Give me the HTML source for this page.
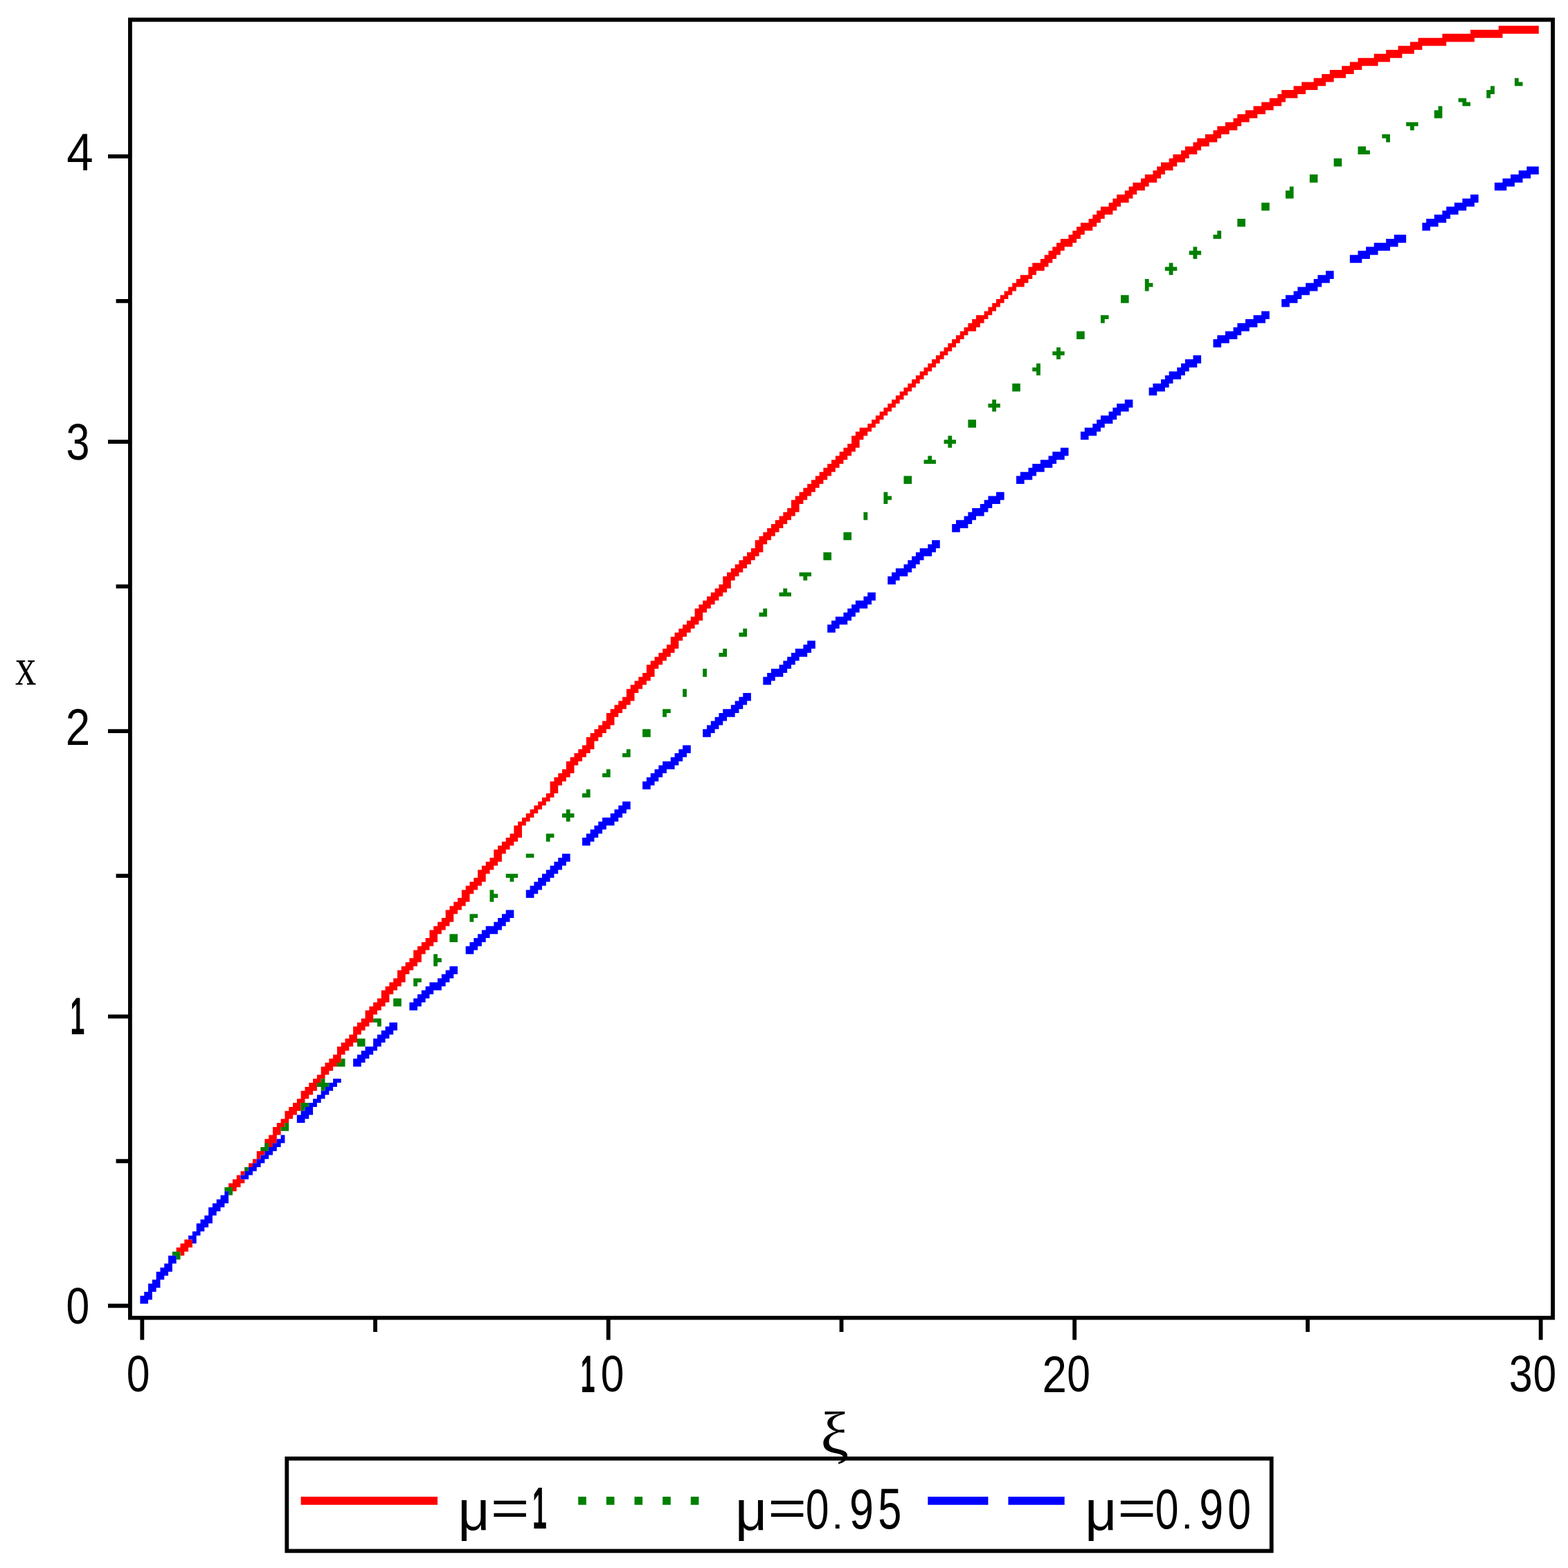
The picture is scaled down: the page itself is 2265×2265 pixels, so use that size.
<!DOCTYPE html>
<html lang="en"><head><meta charset="utf-8"><title>x versus ξ</title>
<style>
html,body{margin:0;padding:0;background:#fff;}
body{width:2265px;height:2265px;overflow:hidden;}
svg{display:block;}
text{fill:#000;font-family:'Liberation Sans',sans-serif;}
</style></head><body>
<svg width="2265" height="2265" viewBox="0 0 2265 2265">
<rect width="2265" height="2265" fill="#fff"/>
<path fill="#000" d="M2245.98,25.61 185.03,25.61 185.03,223 156,223 156,228.80 185.03,228.80 185.03,432 167.61,432 167.61,437.80 185.03,437.80 185.03,635.19 156,635.19 156,641 185.03,641 185.03,844.19 167.61,844.19 167.61,849.99 185.03,849.99 185.03,1053.19 156,1053.19 156,1058.99 185.03,1058.99 185.03,1262.18 167.61,1262.18 167.61,1267.99 185.03,1267.99 185.03,1465.38 156,1465.38 156,1471.18 185.03,1471.18 185.03,1674.37 167.61,1674.37 167.61,1680.18 185.03,1680.18 185.03,1883.37 156,1883.37 156,1889.18 185.03,1889.18 185.03,1906.59 202.44,1906.59 202.44,1935.62 208.25,1935.62 208.25,1906.59 539.16,1906.59 539.16,1924.01 544.97,1924.01 544.97,1906.59 875.88,1906.59 875.88,1935.62 881.69,1935.62 881.69,1906.59 1212.60,1906.59 1212.60,1924.01 1218.40,1924.01 1218.40,1906.59 1549.32,1906.59 1549.32,1935.62 1555.12,1935.62 1555.12,1906.59 1886.04,1906.59 1886.04,1924.01 1891.84,1924.01 1891.84,1906.59 2222.76,1906.59 2222.76,1935.62 2228.56,1935.62 2228.56,1906.59 2245.98,1906.59ZM190.83,31.42 2240.17,31.42 2240.17,1900.79 190.83,1900.79ZM411.44,2243.31 1839.59,2243.31 1839.59,2103.98 411.44,2103.98ZM1833.79,2109.79 1833.79,2237.51 417.25,2237.51 417.25,2109.79Z"/>
<path fill="#f00" d="M510.13,1482.79 510.13,1494.40 504.33,1494.40 504.33,1500.21 498.52,1500.21 498.52,1506.01 492.72,1506.01 492.72,1511.82 486.91,1511.82 486.91,1523.43 481.11,1523.43 481.11,1529.24 475.30,1529.24 475.30,1535.04 469.50,1535.04 469.50,1540.85 463.69,1540.85 463.69,1552.46 457.88,1552.46 457.88,1558.26 452.08,1558.26 452.08,1564.07 446.27,1564.07 446.27,1569.88 440.47,1569.88 440.47,1575.68 434.66,1575.68 434.66,1587.29 428.86,1587.29 428.86,1593.10 423.05,1593.10 423.05,1598.90 417.25,1598.90 417.25,1604.71 411.44,1604.71 411.44,1616.32 405.64,1616.32 405.64,1622.12 399.83,1622.12 399.83,1627.93 394.02,1627.93 394.02,1639.54 388.22,1639.54 388.22,1645.35 382.41,1645.35 382.41,1656.96 376.61,1656.96 376.61,1662.76 370.80,1662.76 370.80,1674.37 376.61,1674.37 376.61,1668.57 382.41,1668.57 382.41,1662.76 388.22,1662.76 388.22,1656.96 394.02,1656.96 394.02,1651.15 399.83,1651.15 399.83,1639.54 405.64,1639.54 405.64,1627.93 411.44,1627.93 411.44,1622.12 417.25,1622.12 417.25,1616.32 423.05,1616.32 423.05,1610.51 428.86,1610.51 428.86,1604.71 434.66,1604.71 434.66,1593.10 440.47,1593.10 440.47,1587.29 446.27,1587.29 446.27,1581.49 452.08,1581.49 452.08,1575.68 457.88,1575.68 457.88,1564.07 463.69,1564.07 463.69,1558.26 469.50,1558.26 469.50,1552.46 475.30,1552.46 475.30,1546.65 481.11,1546.65 481.11,1540.85 486.91,1540.85 486.91,1535.04 492.72,1535.04 492.72,1523.43 498.52,1523.43 498.52,1517.63 504.33,1517.63 504.33,1511.82 510.13,1511.82 510.13,1506.01 515.94,1506.01 515.94,1494.40 521.75,1494.40 521.75,1488.60 527.55,1488.60 527.55,1482.79 533.36,1482.79 533.36,1476.99 539.16,1476.99 539.16,1465.38 544.97,1465.38 544.97,1459.57 550.77,1459.57 550.77,1453.77 556.58,1453.77 556.58,1447.96 562.38,1447.96 562.38,1436.35 568.19,1436.35 568.19,1430.54 573.99,1430.54 573.99,1424.74 579.80,1424.74 579.80,1418.93 585.61,1418.93 585.61,1407.32 591.41,1407.32 591.41,1401.52 597.22,1401.52 597.22,1395.71 603.02,1395.71 603.02,1389.90 608.83,1389.90 608.83,1378.29 614.63,1378.29 614.63,1372.49 620.44,1372.49 620.44,1366.68 626.24,1366.68 626.24,1360.88 632.05,1360.88 632.05,1349.27 637.86,1349.27 637.86,1343.46 643.66,1343.46 643.66,1337.66 649.47,1337.66 649.47,1331.85 655.27,1331.85 655.27,1320.24 661.08,1320.24 661.08,1314.43 666.88,1314.43 666.88,1308.63 672.69,1308.63 672.69,1302.82 678.49,1302.82 678.49,1291.21 684.30,1291.21 684.30,1285.41 690.10,1285.41 690.10,1279.60 695.91,1279.60 695.91,1273.79 701.72,1273.79 701.72,1262.18 707.52,1262.18 707.52,1256.38 713.33,1256.38 713.33,1250.57 719.13,1250.57 719.13,1244.77 724.94,1244.77 724.94,1233.16 730.74,1233.16 730.74,1227.35 736.55,1227.35 736.55,1221.55 742.35,1221.55 742.35,1215.74 748.16,1215.74 748.16,1209.93 753.97,1209.93 753.97,1192.52 759.77,1192.52 759.77,1186.71 765.58,1186.71 765.58,1180.91 771.38,1180.91 771.38,1175.10 777.19,1175.10 777.19,1169.30 782.99,1169.30 782.99,1163.49 788.80,1163.49 788.80,1157.68 794.60,1157.68 794.60,1151.88 800.41,1151.88 800.41,1146.07 806.21,1146.07 806.21,1134.46 812.02,1134.46 812.02,1128.66 817.83,1128.66 817.83,1122.85 823.63,1122.85 823.63,1117.05 829.44,1117.05 829.44,1105.44 835.24,1105.44 835.24,1099.63 841.05,1099.63 841.05,1093.82 846.85,1093.82 846.85,1088.02 852.66,1088.02 852.66,1082.21 858.46,1082.21 858.46,1070.60 864.27,1070.60 864.27,1064.80 870.08,1064.80 870.08,1058.99 875.88,1058.99 875.88,1053.19 881.69,1053.19 881.69,1047.38 887.49,1047.38 887.49,1035.77 893.30,1035.77 893.30,1029.96 899.10,1029.96 899.10,1024.16 904.91,1024.16 904.91,1018.35 910.71,1018.35 910.71,1012.55 916.52,1012.55 916.52,1000.94 922.32,1000.94 922.32,995.13 928.13,995.13 928.13,989.33 933.94,989.33 933.94,983.52 939.74,983.52 939.74,977.71 945.55,977.71 945.55,966.10 951.35,966.10 951.35,960.30 957.16,960.30 957.16,954.49 962.96,954.49 962.96,948.69 968.77,948.69 968.77,942.88 974.57,942.88 974.57,937.08 980.38,937.08 980.38,925.46 986.19,925.46 986.19,919.66 991.99,919.66 991.99,913.85 997.80,913.85 997.80,908.05 1003.60,908.05 1003.60,902.24 1009.41,902.24 1009.41,896.44 1015.21,896.44 1015.21,884.83 1021.02,884.83 1021.02,879.02 1026.82,879.02 1026.82,873.22 1032.63,873.22 1032.63,867.41 1038.43,867.41 1038.43,861.60 1044.24,861.60 1044.24,855.80 1050.05,855.80 1050.05,849.99 1055.85,849.99 1055.85,838.38 1061.66,838.38 1061.66,832.58 1067.46,832.58 1067.46,826.77 1073.27,826.77 1073.27,820.97 1079.07,820.97 1079.07,815.16 1084.88,815.16 1084.88,809.35 1090.68,809.35 1090.68,803.55 1096.49,803.55 1096.49,797.74 1102.30,797.74 1102.30,786.13 1108.10,786.13 1108.10,780.33 1113.91,780.33 1113.91,774.52 1119.71,774.52 1119.71,768.72 1125.52,768.72 1125.52,762.91 1131.32,762.91 1131.32,757.11 1137.13,757.11 1137.13,751.30 1142.93,751.30 1142.93,745.49 1148.74,745.49 1148.74,739.69 1154.54,739.69 1154.54,728.08 1160.35,728.08 1160.35,722.27 1166.16,722.27 1166.16,716.47 1171.96,716.47 1171.96,710.66 1177.77,710.66 1177.77,704.86 1183.57,704.86 1183.57,699.05 1189.38,699.05 1189.38,693.24 1195.18,693.24 1195.18,687.44 1200.99,687.44 1200.99,681.63 1206.79,681.63 1206.79,675.83 1212.60,675.83 1212.60,670.02 1218.40,670.02 1218.40,664.22 1224.21,664.22 1224.21,658.41 1230.02,658.41 1230.02,652.61 1235.82,652.61 1235.82,646.80 1241.63,646.80 1241.63,635.19 1247.43,635.19 1247.43,629.38 1253.24,629.38 1253.24,623.58 1259.04,623.58 1259.04,617.77 1264.85,617.77 1264.85,611.97 1270.65,611.97 1270.65,606.16 1276.46,606.16 1276.46,600.36 1282.27,600.36 1282.27,594.55 1288.07,594.55 1288.07,588.75 1293.88,588.75 1293.88,582.94 1299.68,582.94 1299.68,577.13 1305.49,577.13 1305.49,571.33 1311.29,571.33 1311.29,565.52 1317.10,565.52 1317.10,559.72 1322.90,559.72 1322.90,553.91 1328.71,553.91 1328.71,548.11 1334.52,548.11 1334.52,542.30 1340.32,542.30 1340.32,536.50 1346.13,536.50 1346.13,530.69 1351.93,530.69 1351.93,524.88 1357.74,524.88 1357.74,519.08 1363.54,519.08 1363.54,513.27 1369.35,513.27 1369.35,507.47 1375.15,507.47 1375.15,501.66 1380.96,501.66 1380.96,495.86 1386.76,495.86 1386.76,490.05 1392.57,490.05 1392.57,484.25 1398.38,484.25 1398.38,478.44 1409.99,478.44 1409.99,472.64 1415.79,472.64 1415.79,466.83 1421.60,466.83 1421.60,461.02 1427.40,461.02 1427.40,455.22 1433.21,455.22 1433.21,449.41 1439.01,449.41 1439.01,443.61 1444.82,443.61 1444.82,437.80 1450.62,437.80 1450.62,432 1456.43,432 1456.43,426.19 1462.24,426.19 1462.24,420.39 1468.04,420.39 1468.04,414.58 1479.65,414.58 1479.65,408.78 1485.46,408.78 1485.46,402.97 1491.26,402.97 1491.26,397.16 1497.07,397.16 1497.07,391.36 1508.68,391.36 1508.68,385.55 1514.49,385.55 1514.49,379.75 1520.29,379.75 1520.29,373.94 1526.10,373.94 1526.10,368.14 1531.90,368.14 1531.90,362.33 1537.71,362.33 1537.71,356.53 1549.32,356.53 1549.32,350.72 1555.12,350.72 1555.12,344.91 1560.93,344.91 1560.93,339.11 1566.74,339.11 1566.74,333.30 1578.35,333.30 1578.35,327.50 1584.15,327.50 1584.15,321.69 1589.96,321.69 1589.96,315.89 1595.76,315.89 1595.76,310.08 1607.37,310.08 1607.37,304.28 1613.18,304.28 1613.18,298.47 1618.98,298.47 1618.98,292.67 1630.60,292.67 1630.60,286.86 1636.40,286.86 1636.40,281.05 1642.21,281.05 1642.21,275.25 1653.82,275.25 1653.82,269.44 1659.62,269.44 1659.62,263.64 1671.23,263.64 1671.23,257.83 1677.04,257.83 1677.04,252.03 1682.85,252.03 1682.85,246.22 1694.46,246.22 1694.46,240.42 1700.26,240.42 1700.26,234.61 1711.87,234.61 1711.87,228.80 1717.68,228.80 1717.68,223 1729.29,223 1729.29,217.19 1735.09,217.19 1735.09,211.39 1746.71,211.39 1746.71,205.58 1758.32,205.58 1758.32,199.78 1764.12,199.78 1764.12,193.97 1775.73,193.97 1775.73,188.17 1787.34,188.17 1787.34,182.36 1793.15,182.36 1793.15,176.56 1804.76,176.56 1804.76,170.75 1816.37,170.75 1816.37,164.94 1827.98,164.94 1827.98,159.14 1839.59,159.14 1839.59,153.33 1851.20,153.33 1851.20,147.53 1857.01,147.53 1857.01,141.72 1874.43,141.72 1874.43,135.92 1886.04,135.92 1886.04,130.11 1903.45,130.11 1903.45,124.31 1915.07,124.31 1915.07,118.50 1926.68,118.50 1926.68,112.69 1944.09,112.69 1944.09,106.89 1955.70,106.89 1955.70,101.08 1967.31,101.08 1967.31,95.28 1990.54,95.28 1990.54,89.47 2007.95,89.47 2007.95,83.67 2025.37,83.67 2025.37,77.86 2042.79,77.86 2042.79,72.06 2054.40,72.06 2054.40,66.25 2089.23,66.25 2089.23,60.45 2129.87,60.45 2129.87,54.64 2170.51,54.64 2170.51,48.83 2222.76,48.83 2222.76,37.22 2164.70,37.22 2164.70,43.03 2124.06,43.03 2124.06,48.83 2083.42,48.83 2083.42,54.64 2048.59,54.64 2048.59,60.45 2036.98,60.45 2036.98,66.25 2019.56,66.25 2019.56,72.06 2002.15,72.06 2002.15,77.86 1984.73,77.86 1984.73,83.67 1961.51,83.67 1961.51,89.47 1949.90,89.47 1949.90,95.28 1938.29,95.28 1938.29,101.08 1920.87,101.08 1920.87,106.89 1909.26,106.89 1909.26,112.69 1897.65,112.69 1897.65,118.50 1880.23,118.50 1880.23,124.31 1868.62,124.31 1868.62,130.11 1851.20,130.11 1851.20,135.92 1845.40,135.92 1845.40,141.72 1833.79,141.72 1833.79,147.53 1822.18,147.53 1822.18,153.33 1810.57,153.33 1810.57,159.14 1798.96,159.14 1798.96,164.94 1787.34,164.94 1787.34,170.75 1781.54,170.75 1781.54,176.56 1769.93,176.56 1769.93,182.36 1758.32,182.36 1758.32,188.17 1752.51,188.17 1752.51,193.97 1740.90,193.97 1740.90,199.78 1729.29,199.78 1729.29,205.58 1723.48,205.58 1723.48,211.39 1711.87,211.39 1711.87,217.19 1706.07,217.19 1706.07,223 1694.46,223 1694.46,228.80 1688.65,228.80 1688.65,234.61 1677.04,234.61 1677.04,240.42 1671.23,240.42 1671.23,246.22 1665.43,246.22 1665.43,252.03 1653.82,252.03 1653.82,257.83 1648.01,257.83 1648.01,263.64 1636.40,263.64 1636.40,269.44 1630.60,269.44 1630.60,275.25 1624.79,275.25 1624.79,281.05 1613.18,281.05 1613.18,286.86 1607.37,286.86 1607.37,292.67 1601.57,292.67 1601.57,298.47 1589.96,298.47 1589.96,304.28 1584.15,304.28 1584.15,310.08 1578.35,310.08 1578.35,315.89 1572.54,315.89 1572.54,321.69 1560.93,321.69 1560.93,327.50 1555.12,327.50 1555.12,333.30 1549.32,333.30 1549.32,339.11 1543.51,339.11 1543.51,344.91 1531.90,344.91 1531.90,350.72 1526.10,350.72 1526.10,356.53 1520.29,356.53 1520.29,362.33 1514.49,362.33 1514.49,368.14 1508.68,368.14 1508.68,373.94 1502.87,373.94 1502.87,379.75 1491.26,379.75 1491.26,385.55 1485.46,385.55 1485.46,397.16 1473.85,397.16 1473.85,402.97 1468.04,402.97 1468.04,408.78 1462.24,408.78 1462.24,414.58 1456.43,414.58 1456.43,420.39 1450.62,420.39 1450.62,426.19 1444.82,426.19 1444.82,432 1439.01,432 1439.01,437.80 1433.21,437.80 1433.21,443.61 1427.40,443.61 1427.40,449.41 1421.60,449.41 1421.60,455.22 1409.99,455.22 1409.99,461.02 1404.18,461.02 1404.18,466.83 1398.38,466.83 1398.38,472.64 1392.57,472.64 1392.57,478.44 1386.76,478.44 1386.76,484.25 1380.96,484.25 1380.96,490.05 1375.15,490.05 1375.15,495.86 1369.35,495.86 1369.35,501.66 1363.54,501.66 1363.54,507.47 1357.74,507.47 1357.74,513.27 1351.93,513.27 1351.93,519.08 1346.13,519.08 1346.13,524.88 1340.32,524.88 1340.32,530.69 1334.52,530.69 1334.52,536.50 1328.71,536.50 1328.71,542.30 1322.90,542.30 1322.90,548.11 1317.10,548.11 1317.10,553.91 1311.29,553.91 1311.29,559.72 1305.49,559.72 1305.49,565.52 1299.68,565.52 1299.68,571.33 1293.88,571.33 1293.88,577.13 1288.07,577.13 1288.07,582.94 1282.27,582.94 1282.27,588.75 1276.46,588.75 1276.46,594.55 1270.65,594.55 1270.65,600.36 1264.85,600.36 1264.85,606.16 1259.04,606.16 1259.04,611.97 1253.24,611.97 1253.24,617.77 1241.63,617.77 1241.63,623.58 1235.82,623.58 1235.82,629.38 1230.02,629.38 1230.02,641 1224.21,641 1224.21,646.80 1218.40,646.80 1218.40,652.61 1212.60,652.61 1212.60,658.41 1206.79,658.41 1206.79,664.22 1200.99,664.22 1200.99,670.02 1195.18,670.02 1195.18,675.83 1189.38,675.83 1189.38,681.63 1183.57,681.63 1183.57,687.44 1177.77,687.44 1177.77,693.24 1171.96,693.24 1171.96,699.05 1166.16,699.05 1166.16,704.86 1160.35,704.86 1160.35,710.66 1154.54,710.66 1154.54,716.47 1148.74,716.47 1148.74,722.27 1142.93,722.27 1142.93,733.88 1137.13,733.88 1137.13,739.69 1131.32,739.69 1131.32,745.49 1125.52,745.49 1125.52,751.30 1119.71,751.30 1119.71,757.11 1113.91,757.11 1113.91,762.91 1108.10,762.91 1108.10,768.72 1102.30,768.72 1102.30,774.52 1096.49,774.52 1096.49,780.33 1090.68,780.33 1090.68,791.94 1084.88,791.94 1084.88,797.74 1079.07,797.74 1079.07,803.55 1073.27,803.55 1073.27,809.35 1067.46,809.35 1067.46,815.16 1061.66,815.16 1061.66,820.97 1055.85,820.97 1055.85,826.77 1050.05,826.77 1050.05,832.58 1044.24,832.58 1044.24,844.19 1038.43,844.19 1038.43,849.99 1032.63,849.99 1032.63,855.80 1026.82,855.80 1026.82,861.60 1021.02,861.60 1021.02,867.41 1015.21,867.41 1015.21,873.22 1009.41,873.22 1009.41,879.02 1003.60,879.02 1003.60,890.63 997.80,890.63 997.80,896.44 991.99,896.44 991.99,902.24 986.19,902.24 986.19,908.05 980.38,908.05 980.38,913.85 974.57,913.85 974.57,919.66 968.77,919.66 968.77,931.27 962.96,931.27 962.96,937.08 957.16,937.08 957.16,942.88 951.35,942.88 951.35,948.69 945.55,948.69 945.55,954.49 939.74,954.49 939.74,960.30 933.94,960.30 933.94,971.91 928.13,971.91 928.13,977.71 922.32,977.71 922.32,983.52 916.52,983.52 916.52,989.33 910.71,989.33 910.71,995.13 904.91,995.13 904.91,1006.74 899.10,1006.74 899.10,1012.55 893.30,1012.55 893.30,1018.35 887.49,1018.35 887.49,1024.16 881.69,1024.16 881.69,1029.96 875.88,1029.96 875.88,1041.57 870.08,1041.57 870.08,1047.38 864.27,1047.38 864.27,1053.19 858.46,1053.19 858.46,1058.99 852.66,1058.99 852.66,1064.80 846.85,1064.80 846.85,1076.41 841.05,1076.41 841.05,1082.21 835.24,1082.21 835.24,1088.02 829.44,1088.02 829.44,1093.82 823.63,1093.82 823.63,1099.63 817.83,1099.63 817.83,1111.24 812.02,1111.24 812.02,1117.05 806.21,1117.05 806.21,1122.85 800.41,1122.85 800.41,1128.66 794.60,1128.66 794.60,1146.07 788.80,1146.07 788.80,1151.88 782.99,1151.88 782.99,1157.68 777.19,1157.68 777.19,1163.49 771.38,1163.49 771.38,1169.30 765.58,1169.30 765.58,1175.10 759.77,1175.10 759.77,1180.91 753.97,1180.91 753.97,1186.71 748.16,1186.71 748.16,1192.52 742.35,1192.52 742.35,1204.13 736.55,1204.13 736.55,1209.93 730.74,1209.93 730.74,1215.74 724.94,1215.74 724.94,1221.55 719.13,1221.55 719.13,1227.35 713.33,1227.35 713.33,1238.96 707.52,1238.96 707.52,1244.77 701.72,1244.77 701.72,1250.57 695.91,1250.57 695.91,1256.38 690.10,1256.38 690.10,1267.99 684.30,1267.99 684.30,1273.79 678.49,1273.79 678.49,1279.60 672.69,1279.60 672.69,1285.41 666.88,1285.41 666.88,1297.02 661.08,1297.02 661.08,1302.82 655.27,1302.82 655.27,1308.63 649.47,1308.63 649.47,1314.43 643.66,1314.43 643.66,1326.04 637.86,1326.04 637.86,1331.85 632.05,1331.85 632.05,1337.66 626.24,1337.66 626.24,1343.46 620.44,1343.46 620.44,1355.07 614.63,1355.07 614.63,1360.88 608.83,1360.88 608.83,1366.68 603.02,1366.68 603.02,1372.49 597.22,1372.49 597.22,1384.10 591.41,1384.10 591.41,1389.90 585.61,1389.90 585.61,1395.71 579.80,1395.71 579.80,1401.52 573.99,1401.52 573.99,1413.13 568.19,1413.13 568.19,1418.93 562.38,1418.93 562.38,1424.74 556.58,1424.74 556.58,1430.54 550.77,1430.54 550.77,1442.15 544.97,1442.15 544.97,1447.96 539.16,1447.96 539.16,1453.77 533.36,1453.77 533.36,1459.57 527.55,1459.57 527.55,1471.18 521.75,1471.18 521.75,1476.99 515.94,1476.99 515.94,1482.79ZM365,1674.37 365,1680.18 370.80,1680.18 370.80,1674.37ZM359.19,1685.99 365,1685.99 365,1680.18 359.19,1680.18ZM359.19,1685.99 353.39,1685.99 353.39,1691.79 359.19,1691.79ZM347.58,1697.60 353.39,1697.60 353.39,1691.79 347.58,1691.79ZM330.16,1709.21 330.16,1715.01 335.97,1715.01 335.97,1720.82 341.77,1720.82 341.77,1715.01 347.58,1715.01 347.58,1709.21 353.39,1709.21 353.39,1703.40 347.58,1703.40 347.58,1697.60 341.77,1697.60 341.77,1703.40 335.97,1703.40 335.97,1709.21ZM260.50,1813.71 266.30,1813.71 266.30,1807.90 272.11,1807.90 272.11,1802.10 277.91,1802.10 277.91,1790.48 266.30,1790.48 266.30,1796.29 260.50,1796.29 260.50,1802.10 254.69,1802.10 254.69,1807.90 260.50,1807.90ZM434.66,2162.04 434.66,2173.65 632.05,2173.65 632.05,2162.04Z"/>
<path fill="#008000" d="M794.60,1215.74 794.60,1209.93 800.41,1209.93 800.41,1204.13 788.80,1204.13 788.80,1215.74ZM771.38,1238.96 771.38,1233.16 759.77,1233.16 759.77,1238.96ZM742.35,1273.79 742.35,1267.99 748.16,1267.99 748.16,1262.18 730.74,1262.18 730.74,1267.99 736.55,1267.99 736.55,1273.79ZM713.33,1297.02 719.13,1297.02 719.13,1291.21 713.33,1291.21 713.33,1285.41 707.52,1285.41 707.52,1302.82 713.33,1302.82ZM690.10,1326.04 690.10,1320.24 678.49,1320.24 678.49,1331.85 684.30,1331.85 684.30,1326.04ZM661.08,1349.27 649.47,1349.27 649.47,1360.88 661.08,1360.88ZM632.05,1389.90 637.86,1389.90 637.86,1384.10 632.05,1384.10 632.05,1378.29 626.24,1378.29 626.24,1395.71 632.05,1395.71ZM608.83,1413.13 597.22,1413.13 597.22,1424.74 603.02,1424.74 603.02,1418.93 608.83,1418.93ZM568.19,1442.15 568.19,1453.77 579.80,1453.77 579.80,1442.15ZM550.77,1471.18 539.16,1471.18 539.16,1476.99 544.97,1476.99 544.97,1482.79 550.77,1482.79ZM527.55,1500.21 515.94,1500.21 515.94,1511.82 527.55,1511.82ZM498.52,1529.24 492.72,1529.24 492.72,1535.04 486.91,1535.04 486.91,1540.85 498.52,1540.85ZM463.69,1575.68 469.50,1575.68 469.50,1569.88 475.30,1569.88 475.30,1564.07 469.50,1564.07 469.50,1558.26 463.69,1558.26 463.69,1564.07 457.88,1564.07 457.88,1569.88 463.69,1569.88ZM440.47,1598.90 446.27,1598.90 446.27,1593.10 434.66,1593.10 434.66,1604.71 440.47,1604.71ZM417.25,1622.12 411.44,1622.12 411.44,1627.93 405.64,1627.93 405.64,1633.74 417.25,1633.74ZM376.61,1662.76 388.22,1662.76 388.22,1651.15 382.41,1651.15 382.41,1656.96 376.61,1656.96ZM359.19,1691.79 359.19,1685.99 353.39,1685.99 353.39,1691.79ZM335.97,1715.01 324.36,1715.01 324.36,1720.82 330.16,1720.82 330.16,1726.62 335.97,1726.62ZM254.69,1819.51 260.50,1819.51 260.50,1807.90 248.89,1807.90 248.89,1813.71 254.69,1813.71ZM1171.96,832.58 1171.96,826.77 1154.54,826.77 1154.54,832.58 1160.35,832.58 1160.35,838.38 1166.16,838.38 1166.16,832.58ZM1125.52,861.60 1142.93,861.60 1142.93,855.80 1137.13,855.80 1137.13,849.99 1131.32,849.99 1131.32,855.80 1125.52,855.80ZM1108.10,879.02 1102.30,879.02 1102.30,884.83 1096.49,884.83 1096.49,890.63 1108.10,890.63ZM1079.07,908.05 1073.27,908.05 1073.27,913.85 1067.46,913.85 1067.46,919.66 1079.07,919.66ZM1050.05,937.08 1044.24,937.08 1044.24,942.88 1038.43,942.88 1038.43,948.69 1050.05,948.69ZM1021.02,966.10 1015.21,966.10 1015.21,977.71 1021.02,977.71ZM991.99,995.13 986.19,995.13 986.19,1006.74 991.99,1006.74ZM962.96,1029.96 968.77,1029.96 968.77,1024.16 957.16,1024.16 957.16,1035.77 962.96,1035.77ZM939.74,1064.80 939.74,1053.19 928.13,1053.19 928.13,1064.80ZM910.71,1082.21 904.91,1082.21 904.91,1088.02 899.10,1088.02 899.10,1093.82 910.71,1093.82ZM870.08,1122.85 881.69,1122.85 881.69,1111.24 875.88,1111.24 875.88,1117.05 870.08,1117.05ZM852.66,1140.27 846.85,1140.27 846.85,1146.07 841.05,1146.07 841.05,1151.88 852.66,1151.88ZM823.63,1186.71 823.63,1180.91 829.44,1180.91 829.44,1175.10 823.63,1175.10 823.63,1169.30 817.83,1169.30 817.83,1175.10 812.02,1175.10 812.02,1180.91 817.83,1180.91 817.83,1186.71ZM887.49,2173.65 887.49,2162.04 875.88,2162.04 875.88,2173.65ZM928.13,2162.04 916.52,2162.04 916.52,2173.65 928.13,2173.65ZM1009.41,2173.65 1009.41,2162.04 997.80,2162.04 997.80,2173.65ZM835.24,2162.04 835.24,2173.65 846.85,2173.65 846.85,2162.04ZM968.77,2162.04 957.16,2162.04 957.16,2173.65 968.77,2173.65ZM1659.62,414.58 1665.43,414.58 1665.43,408.78 1659.62,408.78 1659.62,402.97 1653.82,402.97 1653.82,420.39 1659.62,420.39ZM1618.98,426.19 1618.98,437.80 1630.60,437.80 1630.60,426.19ZM1601.57,461.02 1601.57,455.22 1589.96,455.22 1589.96,466.83 1595.76,466.83 1595.76,461.02ZM1566.74,478.44 1555.12,478.44 1555.12,490.05 1566.74,490.05ZM1526.10,519.08 1531.90,519.08 1531.90,513.27 1537.71,513.27 1537.71,507.47 1531.90,507.47 1531.90,501.66 1526.10,501.66 1526.10,507.47 1520.29,507.47 1520.29,513.27 1526.10,513.27ZM1502.87,542.30 1502.87,524.88 1497.07,524.88 1497.07,530.69 1491.26,530.69 1491.26,536.50 1497.07,536.50 1497.07,542.30ZM1473.85,565.52 1473.85,553.91 1462.24,553.91 1462.24,565.52ZM1439.01,594.55 1439.01,588.75 1444.82,588.75 1444.82,582.94 1439.01,582.94 1439.01,577.13 1433.21,577.13 1433.21,582.94 1427.40,582.94 1427.40,588.75 1433.21,588.75 1433.21,594.55ZM1409.99,606.16 1398.38,606.16 1398.38,617.77 1409.99,617.77ZM1369.35,646.80 1375.15,646.80 1375.15,641 1380.96,641 1380.96,635.19 1375.15,635.19 1375.15,629.38 1369.35,629.38 1369.35,635.19 1363.54,635.19 1363.54,641 1369.35,641ZM1351.93,664.22 1346.13,664.22 1346.13,658.41 1340.32,658.41 1340.32,664.22 1334.52,664.22 1334.52,670.02 1351.93,670.02ZM1317.10,687.44 1305.49,687.44 1305.49,699.05 1317.10,699.05ZM1276.46,728.08 1282.27,728.08 1282.27,722.27 1288.07,722.27 1288.07,716.47 1282.27,716.47 1282.27,710.66 1276.46,710.66ZM1253.24,739.69 1247.43,739.69 1247.43,751.30 1253.24,751.30ZM1218.40,768.72 1218.40,780.33 1230.02,780.33 1230.02,768.72ZM1189.38,797.74 1189.38,809.35 1200.99,809.35 1200.99,797.74ZM2199.53,124.31 2199.53,118.50 2193.73,118.50 2193.73,112.69 2187.92,112.69 2187.92,124.31ZM2153.09,135.92 2158.90,135.92 2158.90,124.31 2153.09,124.31 2153.09,130.11 2147.29,130.11 2147.29,141.72 2153.09,141.72ZM2112.45,153.33 2124.06,153.33 2124.06,147.53 2118.26,147.53 2118.26,141.72 2106.65,141.72 2106.65,147.53 2112.45,147.53ZM2083.42,153.33 2077.62,153.33 2077.62,159.14 2071.81,159.14 2071.81,170.75 2083.42,170.75ZM2036.98,188.17 2042.79,188.17 2042.79,182.36 2048.59,182.36 2048.59,176.56 2031.18,176.56 2031.18,182.36 2036.98,182.36ZM2007.95,193.97 1996.34,193.97 1996.34,199.78 2002.15,199.78 2002.15,205.58 2007.95,205.58ZM1973.12,211.39 1961.51,211.39 1961.51,223 1978.93,223 1978.93,217.19 1973.12,217.19ZM1938.29,228.80 1926.68,228.80 1926.68,240.42 1938.29,240.42ZM1903.45,252.03 1891.84,252.03 1891.84,263.64 1903.45,263.64ZM1868.62,286.86 1868.62,269.44 1862.82,269.44 1862.82,275.25 1857.01,275.25 1857.01,286.86ZM1822.18,292.67 1822.18,304.28 1833.79,304.28 1833.79,292.67ZM1798.96,315.89 1787.34,315.89 1787.34,327.50 1798.96,327.50ZM1764.12,333.30 1758.32,333.30 1758.32,339.11 1752.51,339.11 1752.51,344.91 1764.12,344.91ZM1717.68,368.14 1723.48,368.14 1723.48,373.94 1729.29,373.94 1729.29,368.14 1735.09,368.14 1735.09,362.33 1729.29,362.33 1729.29,356.53 1723.48,356.53 1723.48,362.33 1717.68,362.33ZM1688.65,397.16 1694.46,397.16 1694.46,391.36 1700.26,391.36 1700.26,385.55 1694.46,385.55 1694.46,379.75 1688.65,379.75 1688.65,385.55 1682.85,385.55 1682.85,391.36 1688.65,391.36Z"/>
<path fill="#00f" d="M521.75,1540.85 521.75,1535.04 527.55,1535.04 527.55,1529.24 533.36,1529.24 533.36,1523.43 539.16,1523.43 539.16,1517.63 544.97,1517.63 544.97,1511.82 550.77,1511.82 550.77,1506.01 556.58,1506.01 556.58,1500.21 562.38,1500.21 562.38,1494.40 568.19,1494.40 568.19,1488.60 573.99,1488.60 573.99,1476.99 562.38,1476.99 562.38,1482.79 556.58,1482.79 556.58,1488.60 550.77,1488.60 550.77,1494.40 544.97,1494.40 544.97,1500.21 539.16,1500.21 539.16,1511.82 527.55,1511.82 527.55,1517.63 521.75,1517.63 521.75,1523.43 515.94,1523.43 515.94,1529.24 510.13,1529.24 510.13,1540.85ZM469.50,1575.68 463.69,1575.68 463.69,1581.49 457.88,1581.49 457.88,1587.29 452.08,1587.29 452.08,1593.10 446.27,1593.10 446.27,1598.90 440.47,1598.90 440.47,1604.71 434.66,1604.71 434.66,1610.51 428.86,1610.51 428.86,1622.12 440.47,1622.12 440.47,1616.32 446.27,1616.32 446.27,1610.51 452.08,1610.51 452.08,1598.90 457.88,1598.90 457.88,1593.10 463.69,1593.10 463.69,1587.29 469.50,1587.29 469.50,1581.49 475.30,1581.49 475.30,1575.68 481.11,1575.68 481.11,1569.88 486.91,1569.88 486.91,1564.07 492.72,1564.07 492.72,1558.26 481.11,1558.26 481.11,1564.07 475.30,1564.07 475.30,1569.88 469.50,1569.88ZM388.22,1656.96 388.22,1662.76 382.41,1662.76 382.41,1668.57 376.61,1668.57 376.61,1674.37 370.80,1674.37 370.80,1680.18 365,1680.18 365,1685.99 359.19,1685.99 359.19,1691.79 353.39,1691.79 353.39,1697.60 347.58,1697.60 347.58,1703.40 359.19,1703.40 359.19,1697.60 365,1697.60 365,1691.79 370.80,1691.79 370.80,1685.99 376.61,1685.99 376.61,1680.18 382.41,1680.18 382.41,1674.37 388.22,1674.37 388.22,1668.57 394.02,1668.57 394.02,1662.76 399.83,1662.76 399.83,1656.96 405.64,1656.96 405.64,1651.15 411.44,1651.15 411.44,1639.54 405.64,1639.54 405.64,1645.35 399.83,1645.35 399.83,1651.15 394.02,1651.15 394.02,1656.96ZM306.94,1738.23 306.94,1744.04 301.14,1744.04 301.14,1755.65 295.33,1755.65 295.33,1761.46 289.53,1761.46 289.53,1767.26 283.72,1767.26 283.72,1778.87 277.91,1778.87 277.91,1784.68 272.11,1784.68 272.11,1790.48 277.91,1790.48 277.91,1796.29 283.72,1796.29 283.72,1784.68 289.53,1784.68 289.53,1778.87 295.33,1778.87 295.33,1773.07 301.14,1773.07 301.14,1767.26 306.94,1767.26 306.94,1755.65 312.75,1755.65 312.75,1749.85 318.55,1749.85 318.55,1744.04 324.36,1744.04 324.36,1738.23 330.16,1738.23 330.16,1720.82 324.36,1720.82 324.36,1726.62 318.55,1726.62 318.55,1732.43 312.75,1732.43 312.75,1738.23ZM231.47,1836.93 225.66,1836.93 225.66,1848.54 219.86,1848.54 219.86,1854.34 214.05,1854.34 214.05,1865.96 208.25,1865.96 208.25,1871.76 202.44,1871.76 202.44,1883.37 214.05,1883.37 214.05,1877.57 219.86,1877.57 219.86,1865.96 225.66,1865.96 225.66,1860.15 231.47,1860.15 231.47,1848.54 237.28,1848.54 237.28,1842.73 243.08,1842.73 243.08,1836.93 248.89,1836.93 248.89,1825.32 254.69,1825.32 254.69,1813.71 243.08,1813.71 243.08,1825.32 237.28,1825.32 237.28,1831.12 231.47,1831.12ZM841.05,1221.55 852.66,1221.55 852.66,1215.74 858.46,1215.74 858.46,1209.93 864.27,1209.93 864.27,1204.13 870.08,1204.13 870.08,1198.32 875.88,1198.32 875.88,1192.52 887.49,1192.52 887.49,1186.71 893.30,1186.71 893.30,1180.91 899.10,1180.91 899.10,1175.10 904.91,1175.10 904.91,1169.30 910.71,1169.30 910.71,1157.68 899.10,1157.68 899.10,1163.49 893.30,1163.49 893.30,1169.30 887.49,1169.30 887.49,1175.10 881.69,1175.10 881.69,1180.91 870.08,1180.91 870.08,1186.71 864.27,1186.71 864.27,1192.52 858.46,1192.52 858.46,1198.32 852.66,1198.32 852.66,1204.13 846.85,1204.13 846.85,1209.93 841.05,1209.93ZM794.60,1250.57 794.60,1256.38 788.80,1256.38 788.80,1262.18 782.99,1262.18 782.99,1267.99 777.19,1267.99 777.19,1273.79 771.38,1273.79 771.38,1279.60 765.58,1279.60 765.58,1285.41 759.77,1285.41 759.77,1297.02 771.38,1297.02 771.38,1291.21 777.19,1291.21 777.19,1285.41 782.99,1285.41 782.99,1279.60 788.80,1279.60 788.80,1273.79 794.60,1273.79 794.60,1267.99 800.41,1267.99 800.41,1262.18 806.21,1262.18 806.21,1256.38 812.02,1256.38 812.02,1250.57 817.83,1250.57 817.83,1244.77 823.63,1244.77 823.63,1233.16 812.02,1233.16 812.02,1238.96 806.21,1238.96 806.21,1244.77 800.41,1244.77 800.41,1250.57ZM713.33,1331.85 713.33,1337.66 701.72,1337.66 701.72,1343.46 695.91,1343.46 695.91,1349.27 690.10,1349.27 690.10,1355.07 684.30,1355.07 684.30,1360.88 678.49,1360.88 678.49,1366.68 672.69,1366.68 672.69,1378.29 684.30,1378.29 684.30,1372.49 690.10,1372.49 690.10,1366.68 695.91,1366.68 695.91,1360.88 701.72,1360.88 701.72,1355.07 707.52,1355.07 707.52,1349.27 719.13,1349.27 719.13,1343.46 724.94,1343.46 724.94,1337.66 730.74,1337.66 730.74,1331.85 736.55,1331.85 736.55,1326.04 742.35,1326.04 742.35,1314.43 730.74,1314.43 730.74,1320.24 724.94,1320.24 724.94,1326.04 719.13,1326.04 719.13,1331.85ZM632.05,1413.13 632.05,1418.93 620.44,1418.93 620.44,1424.74 614.63,1424.74 614.63,1430.54 608.83,1430.54 608.83,1436.35 603.02,1436.35 603.02,1442.15 597.22,1442.15 597.22,1447.96 591.41,1447.96 591.41,1459.57 603.02,1459.57 603.02,1453.77 608.83,1453.77 608.83,1447.96 614.63,1447.96 614.63,1442.15 620.44,1442.15 620.44,1436.35 626.24,1436.35 626.24,1430.54 637.86,1430.54 637.86,1424.74 643.66,1424.74 643.66,1418.93 649.47,1418.93 649.47,1413.13 655.27,1413.13 655.27,1407.32 661.08,1407.32 661.08,1395.71 649.47,1395.71 649.47,1401.52 643.66,1401.52 643.66,1407.32 637.86,1407.32 637.86,1413.13ZM1230.02,879.02 1224.21,879.02 1224.21,884.83 1218.40,884.83 1218.40,890.63 1206.79,890.63 1206.79,896.44 1200.99,896.44 1200.99,902.24 1195.18,902.24 1195.18,913.85 1206.79,913.85 1206.79,908.05 1212.60,908.05 1212.60,902.24 1224.21,902.24 1224.21,896.44 1230.02,896.44 1230.02,890.63 1235.82,890.63 1235.82,884.83 1241.63,884.83 1241.63,879.02 1253.24,879.02 1253.24,873.22 1259.04,873.22 1259.04,867.41 1264.85,867.41 1264.85,855.80 1253.24,855.80 1253.24,861.60 1247.43,861.60 1247.43,867.41 1235.82,867.41 1235.82,873.22 1230.02,873.22ZM1142.93,942.88 1142.93,948.69 1137.13,948.69 1137.13,954.49 1131.32,954.49 1131.32,960.30 1125.52,960.30 1125.52,966.10 1113.91,966.10 1113.91,971.91 1108.10,971.91 1108.10,977.71 1102.30,977.71 1102.30,989.33 1113.91,989.33 1113.91,983.52 1119.71,983.52 1119.71,977.71 1131.32,977.71 1131.32,971.91 1137.13,971.91 1137.13,966.10 1142.93,966.10 1142.93,960.30 1148.74,960.30 1148.74,954.49 1154.54,954.49 1154.54,948.69 1166.16,948.69 1166.16,942.88 1171.96,942.88 1171.96,937.08 1177.77,937.08 1177.77,925.46 1166.16,925.46 1166.16,931.27 1160.35,931.27 1160.35,937.08 1148.74,937.08 1148.74,942.88ZM1079.07,1012.55 1084.88,1012.55 1084.88,1000.94 1073.27,1000.94 1073.27,1006.74 1067.46,1006.74 1067.46,1012.55 1061.66,1012.55 1061.66,1018.35 1055.85,1018.35 1055.85,1024.16 1044.24,1024.16 1044.24,1029.96 1038.43,1029.96 1038.43,1035.77 1032.63,1035.77 1032.63,1041.57 1026.82,1041.57 1026.82,1047.38 1021.02,1047.38 1021.02,1053.19 1015.21,1053.19 1015.21,1064.80 1026.82,1064.80 1026.82,1058.99 1032.63,1058.99 1032.63,1053.19 1038.43,1053.19 1038.43,1047.38 1044.24,1047.38 1044.24,1041.57 1050.05,1041.57 1050.05,1035.77 1061.66,1035.77 1061.66,1029.96 1067.46,1029.96 1067.46,1024.16 1073.27,1024.16 1073.27,1018.35 1079.07,1018.35ZM968.77,1099.63 957.16,1099.63 957.16,1105.44 951.35,1105.44 951.35,1111.24 945.55,1111.24 945.55,1117.05 939.74,1117.05 939.74,1122.85 933.94,1122.85 933.94,1128.66 928.13,1128.66 928.13,1140.27 939.74,1140.27 939.74,1134.46 945.55,1134.46 945.55,1128.66 951.35,1128.66 951.35,1122.85 957.16,1122.85 957.16,1117.05 962.96,1117.05 962.96,1111.24 974.57,1111.24 974.57,1105.44 980.38,1105.44 980.38,1099.63 986.19,1099.63 986.19,1093.82 991.99,1093.82 991.99,1088.02 997.80,1088.02 997.80,1076.41 986.19,1076.41 986.19,1082.21 980.38,1082.21 980.38,1088.02 974.57,1088.02 974.57,1093.82 968.77,1093.82ZM1659.62,571.33 1671.23,571.33 1671.23,565.52 1682.85,565.52 1682.85,559.72 1688.65,559.72 1688.65,553.91 1694.46,553.91 1694.46,548.11 1706.07,548.11 1706.07,542.30 1711.87,542.30 1711.87,536.50 1717.68,536.50 1717.68,530.69 1729.29,530.69 1729.29,524.88 1735.09,524.88 1735.09,513.27 1723.48,513.27 1723.48,519.08 1711.87,519.08 1711.87,524.88 1706.07,524.88 1706.07,530.69 1700.26,530.69 1700.26,536.50 1688.65,536.50 1688.65,542.30 1682.85,542.30 1682.85,548.11 1677.04,548.11 1677.04,553.91 1665.43,553.91 1665.43,559.72 1659.62,559.72ZM1636.40,577.13 1624.79,577.13 1624.79,582.94 1613.18,582.94 1613.18,588.75 1607.37,588.75 1607.37,594.55 1601.57,594.55 1601.57,600.36 1589.96,600.36 1589.96,606.16 1584.15,606.16 1584.15,611.97 1578.35,611.97 1578.35,617.77 1566.74,617.77 1566.74,623.58 1560.93,623.58 1560.93,635.19 1572.54,635.19 1572.54,629.38 1584.15,629.38 1584.15,623.58 1589.96,623.58 1589.96,617.77 1595.76,617.77 1595.76,611.97 1607.37,611.97 1607.37,606.16 1613.18,606.16 1613.18,600.36 1618.98,600.36 1618.98,594.55 1630.60,594.55 1630.60,588.75 1636.40,588.75ZM1502.87,670.02 1491.26,670.02 1491.26,675.83 1485.46,675.83 1485.46,681.63 1473.85,681.63 1473.85,687.44 1468.04,687.44 1468.04,699.05 1479.65,699.05 1479.65,693.24 1491.26,693.24 1491.26,687.44 1497.07,687.44 1497.07,681.63 1508.68,681.63 1508.68,675.83 1520.29,675.83 1520.29,670.02 1526.10,670.02 1526.10,664.22 1537.71,664.22 1537.71,658.41 1543.51,658.41 1543.51,646.80 1531.90,646.80 1531.90,652.61 1520.29,652.61 1520.29,658.41 1514.49,658.41 1514.49,664.22 1502.87,664.22ZM1421.60,722.27 1421.60,728.08 1415.79,728.08 1415.79,733.88 1404.18,733.88 1404.18,739.69 1398.38,739.69 1398.38,745.49 1392.57,745.49 1392.57,751.30 1380.96,751.30 1380.96,757.11 1375.15,757.11 1375.15,768.72 1386.76,768.72 1386.76,762.91 1398.38,762.91 1398.38,757.11 1404.18,757.11 1404.18,751.30 1409.99,751.30 1409.99,745.49 1421.60,745.49 1421.60,739.69 1427.40,739.69 1427.40,733.88 1433.21,733.88 1433.21,728.08 1444.82,728.08 1444.82,722.27 1450.62,722.27 1450.62,710.66 1439.01,710.66 1439.01,716.47 1427.40,716.47 1427.40,722.27ZM1351.93,791.94 1357.74,791.94 1357.74,780.33 1346.13,780.33 1346.13,786.13 1340.32,786.13 1340.32,791.94 1328.71,791.94 1328.71,797.74 1322.90,797.74 1322.90,803.55 1317.10,803.55 1317.10,809.35 1311.29,809.35 1311.29,815.16 1305.49,815.16 1305.49,820.97 1293.88,820.97 1293.88,826.77 1288.07,826.77 1288.07,832.58 1282.27,832.58 1282.27,844.19 1293.88,844.19 1293.88,838.38 1299.68,838.38 1299.68,832.58 1311.29,832.58 1311.29,826.77 1317.10,826.77 1317.10,820.97 1322.90,820.97 1322.90,815.16 1328.71,815.16 1328.71,809.35 1334.52,809.35 1334.52,803.55 1346.13,803.55 1346.13,797.74 1351.93,797.74ZM1427.40,2162.04 1340.32,2162.04 1340.32,2173.65 1427.40,2173.65ZM1537.71,2162.04 1456.43,2162.04 1456.43,2173.65 1537.71,2173.65ZM2170.51,257.83 2170.51,263.64 2158.90,263.64 2158.90,275.25 2176.31,275.25 2176.31,269.44 2187.92,269.44 2187.92,263.64 2199.53,263.64 2199.53,257.83 2211.15,257.83 2211.15,252.03 2222.76,252.03 2222.76,240.42 2205.34,240.42 2205.34,246.22 2193.73,246.22 2193.73,252.03 2182.12,252.03 2182.12,257.83ZM2089.23,304.28 2083.42,304.28 2083.42,310.08 2071.81,310.08 2071.81,315.89 2060.20,315.89 2060.20,321.69 2054.40,321.69 2054.40,333.30 2066.01,333.30 2066.01,327.50 2077.62,327.50 2077.62,321.69 2089.23,321.69 2089.23,315.89 2095.04,315.89 2095.04,310.08 2106.65,310.08 2106.65,304.28 2118.26,304.28 2118.26,298.47 2129.87,298.47 2129.87,292.67 2135.67,292.67 2135.67,281.05 2124.06,281.05 2124.06,286.86 2112.45,286.86 2112.45,292.67 2100.84,292.67 2100.84,298.47 2089.23,298.47ZM2031.18,339.11 2013.76,339.11 2013.76,344.91 2002.15,344.91 2002.15,350.72 1984.73,350.72 1984.73,356.53 1973.12,356.53 1973.12,362.33 1961.51,362.33 1961.51,368.14 1949.90,368.14 1949.90,379.75 1967.31,379.75 1967.31,373.94 1978.93,373.94 1978.93,368.14 1990.54,368.14 1990.54,362.33 2007.95,362.33 2007.95,356.53 2019.56,356.53 2019.56,350.72 2031.18,350.72ZM1886.04,408.78 1886.04,414.58 1874.43,414.58 1874.43,420.39 1868.62,420.39 1868.62,426.19 1857.01,426.19 1857.01,432 1851.20,432 1851.20,443.61 1862.82,443.61 1862.82,437.80 1874.43,437.80 1874.43,432 1880.23,432 1880.23,426.19 1891.84,426.19 1891.84,420.39 1903.45,420.39 1903.45,414.58 1909.26,414.58 1909.26,408.78 1920.87,408.78 1920.87,402.97 1926.68,402.97 1926.68,391.36 1915.07,391.36 1915.07,397.16 1903.45,397.16 1903.45,402.97 1897.65,402.97 1897.65,408.78ZM1810.57,461.02 1798.96,461.02 1798.96,466.83 1787.34,466.83 1787.34,472.64 1781.54,472.64 1781.54,478.44 1769.93,478.44 1769.93,484.25 1758.32,484.25 1758.32,490.05 1752.51,490.05 1752.51,501.66 1764.12,501.66 1764.12,495.86 1775.73,495.86 1775.73,490.05 1787.34,490.05 1787.34,484.25 1793.15,484.25 1793.15,478.44 1804.76,478.44 1804.76,472.64 1816.37,472.64 1816.37,466.83 1827.98,466.83 1827.98,461.02 1833.79,461.02 1833.79,449.41 1822.18,449.41 1822.18,455.22 1810.57,455.22Z"/>
<text font-family="'Liberation Sans', sans-serif"><tspan x="96.36" y="246.22" font-size="75.95" textLength="38.44" lengthAdjust="spacingAndGlyphs">4</tspan></text>
<text font-family="'Liberation Sans', sans-serif"><tspan x="95.61" y="663.50" font-size="73.80" textLength="34.05" lengthAdjust="spacingAndGlyphs">3</tspan></text>
<text font-family="'Liberation Sans', sans-serif"><tspan x="94.74" y="1076.41" font-size="74.83" textLength="35.44" lengthAdjust="spacingAndGlyphs">2</tspan></text>
<text font-family="'Liberation Sans', sans-serif"><tspan x="101.39" y="1494.40" font-size="75.95" textLength="20.82" lengthAdjust="spacingAndGlyphs" font-weight="bold">1</tspan></text>
<text font-family="'Liberation Sans', sans-serif"><tspan x="95.57" y="1911.68" font-size="73.80" textLength="33.77" lengthAdjust="spacingAndGlyphs">0</tspan></text>
<text font-family="'Liberation Sans', sans-serif"><tspan x="182.65" y="2010.37" font-size="73.80" textLength="33.77" lengthAdjust="spacingAndGlyphs">0</tspan></text>
<text font-family="'Liberation Sans', sans-serif"><tspan x="838.69" y="2011.09" font-size="75.95" textLength="20.82" lengthAdjust="spacingAndGlyphs" font-weight="bold">1</tspan><tspan x="867.70" y="2010.37" font-size="73.80" textLength="33.77" lengthAdjust="spacingAndGlyphs">0</tspan></text>
<text font-family="'Liberation Sans', sans-serif"><tspan x="1505.48" y="2011.09" font-size="74.83" textLength="35.44" lengthAdjust="spacingAndGlyphs">2</tspan><tspan x="1541.14" y="2010.37" font-size="73.80" textLength="33.77" lengthAdjust="spacingAndGlyphs">0</tspan></text>
<text font-family="'Liberation Sans', sans-serif"><tspan x="2179.79" y="2010.37" font-size="73.80" textLength="34.05" lengthAdjust="spacingAndGlyphs">3</tspan><tspan x="2214.58" y="2010.37" font-size="73.80" textLength="33.77" lengthAdjust="spacingAndGlyphs">0</tspan></text>
<text font-family="'Liberation Sans', sans-serif"><tspan x="21.94" y="989.33" font-size="75.89" textLength="30.30" lengthAdjust="spacingAndGlyphs" font-family="'Liberation Serif', serif">x</tspan></text>
<text font-family="'Liberation Sans', sans-serif"><tspan x="1185.34" y="2100.35" font-size="86.21" textLength="40.93" lengthAdjust="spacingAndGlyphs" font-family="'Liberation Serif', serif">ξ</tspan></text>
<text font-family="'Liberation Sans', sans-serif"><tspan x="661.49" y="2210.43" font-size="80.61" textLength="46.08" lengthAdjust="spacingAndGlyphs">μ</tspan><tspan x="708.66" y="2203.17" font-size="72.06" textLength="55.83" lengthAdjust="spacingAndGlyphs">=</tspan><tspan x="769.02" y="2208.48" font-size="84.38" textLength="20.82" lengthAdjust="spacingAndGlyphs" font-weight="bold">1</tspan></text>
<text font-family="'Liberation Sans', sans-serif"><tspan x="1062.07" y="2210.43" font-size="80.61" textLength="46.08" lengthAdjust="spacingAndGlyphs">μ</tspan><tspan x="1109.24" y="2203.17" font-size="72.06" textLength="55.83" lengthAdjust="spacingAndGlyphs">=</tspan><tspan x="1163.78" y="2207.68" font-size="82.00" textLength="33.77" lengthAdjust="spacingAndGlyphs">0</tspan><tspan x="1201.23" y="2208.48" font-size="54.29" textLength="16.94" lengthAdjust="spacingAndGlyphs">.</tspan><tspan x="1227.07" y="2207.68" font-size="82.00" textLength="34.95" lengthAdjust="spacingAndGlyphs">9</tspan><tspan x="1268.20" y="2207.67" font-size="83.20" textLength="34.05" lengthAdjust="spacingAndGlyphs">5</tspan></text>
<text font-family="'Liberation Sans', sans-serif"><tspan x="1567.15" y="2210.43" font-size="80.61" textLength="46.08" lengthAdjust="spacingAndGlyphs">μ</tspan><tspan x="1614.32" y="2203.17" font-size="72.06" textLength="55.83" lengthAdjust="spacingAndGlyphs">=</tspan><tspan x="1668.86" y="2207.68" font-size="82.00" textLength="33.77" lengthAdjust="spacingAndGlyphs">0</tspan><tspan x="1706.31" y="2208.48" font-size="54.29" textLength="16.94" lengthAdjust="spacingAndGlyphs">.</tspan><tspan x="1732.15" y="2207.68" font-size="82.00" textLength="34.95" lengthAdjust="spacingAndGlyphs">9</tspan><tspan x="1773.36" y="2207.68" font-size="82.00" textLength="33.77" lengthAdjust="spacingAndGlyphs">0</tspan></text>
</svg>
</body></html>
